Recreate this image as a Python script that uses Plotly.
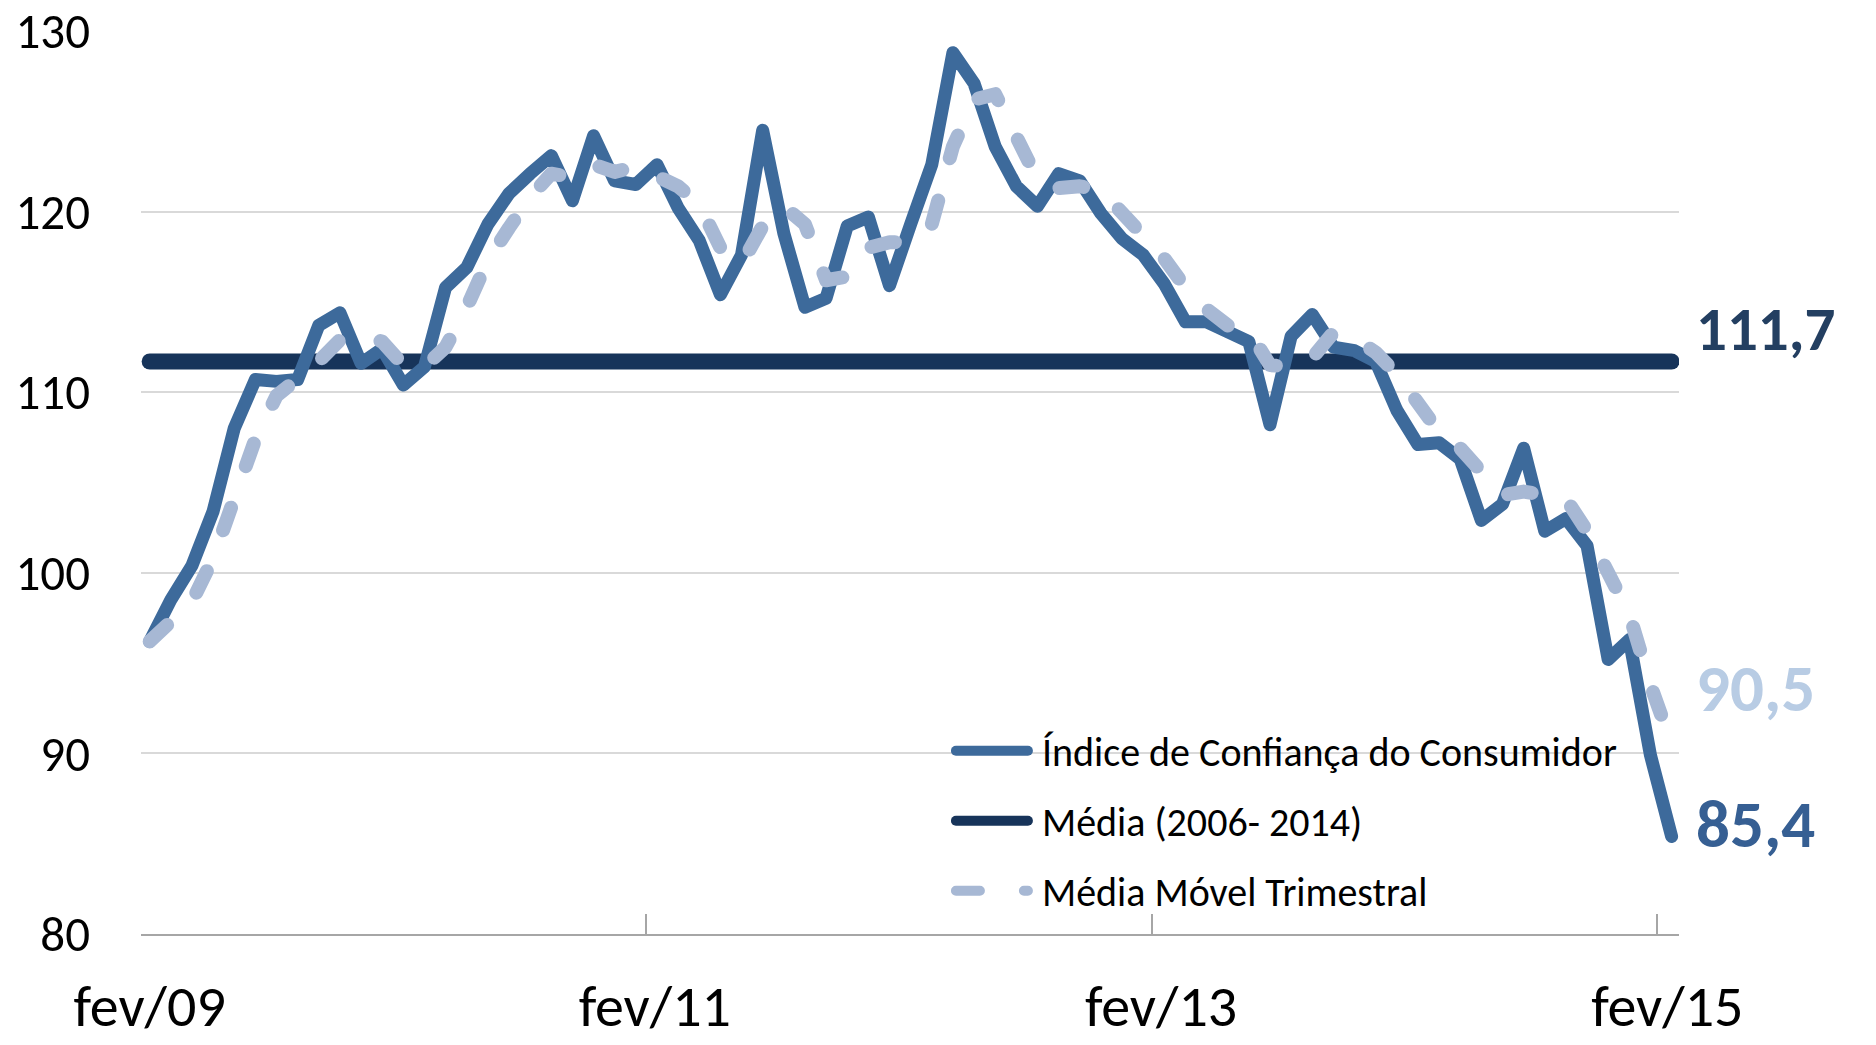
import plotly.graph_objects as go

# ---- data ----
month_names = ["jan", "fev", "mar", "abr", "mai", "jun", "jul", "ago", "set", "out", "nov", "dez"]
periods = []
for yy in range(9, 16):
    for m in month_names:
        periods.append(f"{m}/{yy:02d}")
periods = periods[1:1 + 73]  # fev/09 ... fev/15

icc = [96.2, 98.5, 100.4, 103.4, 108.0, 110.7, 110.6, 110.7, 113.7, 114.4,
       111.6, 112.4, 110.4, 111.4, 115.8, 116.9, 119.3, 121.0, 122.1, 123.1,
       120.6, 124.2, 121.7, 121.5, 122.6, 120.2, 118.4, 115.4, 117.6, 124.5,
       118.8, 114.7, 115.2, 119.2, 119.7, 115.9, 119.3, 122.6, 128.8, 127.1,
       123.6, 121.4, 120.3, 122.1, 121.7, 119.9, 118.5, 117.6, 116.0, 113.9,
       113.9, 113.4, 112.8, 108.2, 113.1, 114.3, 112.5, 112.3, 111.7, 109.0,
       107.1, 107.2, 106.3, 102.9, 103.8, 106.9, 102.3, 103.0, 101.5, 95.2,
       96.3, 89.9, 85.4]

media_movel = [96.2, 97.3, 98.4, 100.8, 103.9, 107.4, 109.8, 110.7, 111.7, 112.9,
               113.2, 112.8, 111.5, 111.4, 112.5, 114.7, 117.3, 119.1, 120.8, 122.1,
               121.9, 122.6, 122.2, 122.5, 121.9, 121.4, 120.4, 118.0, 117.1, 119.2,
               120.3, 119.3, 116.2, 116.4, 118.0, 118.3, 118.3, 119.3, 123.6, 126.2,
               126.5, 124.0, 121.8, 121.3, 121.4, 121.2, 120.0, 118.7, 117.4, 115.8,
               114.6, 113.7, 113.4, 111.5, 111.4, 111.9, 113.3, 113.0, 112.2, 111.0,
               109.3, 107.8, 106.9, 105.5, 104.3, 104.5, 104.3, 104.1, 102.3, 99.9,
               97.7, 93.8, 90.5]

media_2006_2014 = 111.7

x_tick_labels = ["fev/09", "fev/11", "fev/13", "fev/15"]
y_ticks = [80, 90, 100, 110, 120, 130]

# ---- styles ----
C_ICC = "#3d6a9b"
C_MEDIA = "#17345a"
C_MM = "#a7b8d4"
FONT = "Carlito, Lato, sans-serif"
PAD = "\u00a0"

idx = list(range(len(periods)))

fig = go.Figure()

fig.add_trace(go.Scatter(
    x=idx, y=[media_2006_2014] * len(idx), mode="lines",
    name=PAD + "Média (2006- 2014)", legendrank=2, legendgroup="b",
    line=dict(color=C_MEDIA, width=16), hoverinfo="skip"))

fig.add_trace(go.Scatter(
    x=idx, y=icc, mode="lines",
    name=PAD + "Índice de Confiança do Consumidor", legendrank=1, legendgroup="a",
    line=dict(color=C_ICC, width=13), customdata=periods,
    hovertemplate="%{customdata}: %{y}<extra></extra>"))

fig.add_trace(go.Scatter(
    x=idx, y=media_movel, mode="lines",
    name=PAD + "Média Móvel Trimestral", legendrank=3, legendgroup="c",
    line=dict(color=C_MM, width=14, dash="24px,44px"), customdata=periods,
    hovertemplate="%{customdata}: %{y}<extra></extra>"))

# invisible trace so the tick-mark axis is drawn
fig.add_trace(go.Scatter(x=[None], y=[None], xaxis="x2", yaxis="y",
                         showlegend=False, hoverinfo="skip"))

def fmt(v):
    return f"{v:.1f}".replace(".", ",")

last = idx[-1]
annos = [
    (media_2006_2014, "#233f61", 33, 61),
    (media_movel[-1], "#b8cce4", 56, 67),
    (icc[-1], "#365f93", 12, 67),
]
annotations = []
for val, col, ysh, size in annos:
    annotations.append(dict(
        x=last, y=val, xref="x", yref="y", text=fmt(val), showarrow=False,
        xanchor="left", yanchor="middle", xshift=22, yshift=ysh,
        font=dict(family=FONT, size=size, color=col, weight="bold")))

xr = [-0.41, 72.35]
fig.update_layout(
    width=1876, height=1045,
    margin=dict(l=141, r=197, t=31, b=111),
    paper_bgcolor="white", plot_bgcolor="white",
    font=dict(family=FONT, color="black"),
    showlegend=True,
    legend=dict(x=0.5266, y=0.239, xanchor="left", yanchor="top",
                bgcolor="rgba(0,0,0,0)", font=dict(size=40, family=FONT),
                traceorder="grouped", tracegroupgap=15, itemwidth=72),
    xaxis=dict(range=xr, tickvals=[0, 23.9, 47.85, 71.8], ticktext=x_tick_labels,
               ticks="", showgrid=False, zeroline=False, automargin=False,
               showline=True, linecolor="#a6a6a6", linewidth=2,
               ticklabeloverflow="allow",
               tickfont=dict(size=58, family=FONT), ticklabelstandoff=20),
    xaxis2=dict(range=xr, overlaying="x", side="bottom", anchor="y",
                tickvals=[-0.41, 23.47, 47.42, 71.3], ticks="inside", ticklen=20,
                tickwidth=2, tickcolor="#a6a6a6", showticklabels=False,
                showgrid=False, zeroline=False, showline=False, automargin=False),
    yaxis=dict(range=[80, 130], tickvals=y_ticks, ticks="", showline=False,
               showgrid=True, gridcolor="#d9d9d9", gridwidth=2, zeroline=False,
               automargin=False, ticklabeloverflow="allow",
               tickfont=dict(size=49, family=FONT), ticklabelstandoff=50),
    annotations=annotations,
)

post = """
document.body.style.margin = '0';
var s = document.createElement('style');
s.textContent = 'body{margin:0 !important;} path.js-line{stroke-linecap:round !important;stroke-linejoin:round !important;}';
document.head.appendChild(s);
"""
fig.write_html("out.html", post_script=post, config={"displayModeBar": False})
